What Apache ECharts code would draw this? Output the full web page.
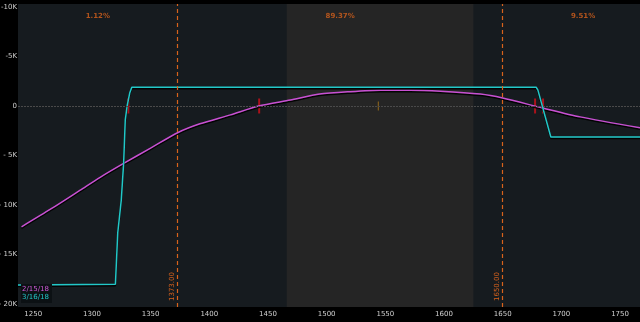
<!DOCTYPE html>
<html><head><meta charset="utf-8">
<script src="https://cdn.jsdelivr.net/npm/echarts@6/dist/echarts.min.js"></script>
<style>html,body{margin:0;padding:0;background:#000;}#c{width:640px;height:322px;}</style>
</head><body><div id="c"></div>
<script>
// T+0 curve (2/15/18): [underlying price, P/L]
const t0Price = [1240,1265,1290,1307,1327,1350,1373,1392,1418,1442,1469,1494,1520,1546,1571,1597,1631,1650,1684,1716,1767];
const t0PL    = [-12200,-10400,-8500,-7200,-5800,-4250,-2700,-1800,-900,0,600,1200,1450,1600,1600,1500,1200,800,-200,-1100,-2200];
// Expiry curve (3/16/18)
const expPrice = [1237,1320,1322,1325,1327,1328.4,1330,1332.2,1334,1678.5,1680,1691,1767];
const expPL    = [-18080,-18000,-12800,-9500,-5800,-1400,0,1300,1900,1900,1600,-3130,-3130];
const seriesNames = ['2/15/18','3/16/18'];
// probability regions and labels
const regionBounds = [[1237,1373],[1373,1650],[1650,1787]];
const regionLabels = ['1.12%','89.37%','9.51%'];
const breakLines = [1373, 1650];
const breakLabels = ['1373.00','1650.00'];
const shadedRange = [1466, 1625];
const redMarks = [1331, 1442.5, 1677.6, 1684.4];
const goldMarks = [1544];
const xTicks = [1250,1300,1350,1400,1450,1500,1550,1600,1650,1700,1750];
const yTicks = [10000,5000,0,-5000,-10000,-15000,-20000];

const font = 'DejaVu Sans';
const orange = '#d8621c';
const chart = echarts.init(document.getElementById('c'));
const lblPos = regionBounds.map((r,i)=>[(r[0]+r[1])/2, 9100, regionLabels[i]]);
chart.setOption({
  backgroundColor:'#000',
  animation:false,
  grid:{left:18,right:0,top:4,bottom:15,show:true,backgroundColor:'#161b1f',borderWidth:0,containLabel:false,outerBoundsMode:'none'},
  xAxis:{type:'value',min:1237,max:1767,
    axisLine:{show:false},axisTick:{show:false},
    splitLine:{show:false},
    axisLabel:{customValues:xTicks,color:'#d0d0d0',fontSize:7,fontFamily:font,margin:4,hideOverlap:false,formatter:v=>String(v)}},
  yAxis:{type:'value',min:-20300,max:10300,
    axisLine:{show:false},axisTick:{show:false},
    splitLine:{show:false},
    axisLabel:{customValues:yTicks,color:'#d0d0d0',fontSize:7,fontFamily:font,margin:1,
      formatter:v=> v===0?'0': (v>0?'-'+(v/1000)+'K':'- '+(Math.abs(v)/1000)+'K')}},
  legend:{orient:'vertical',left:21,bottom:19,itemGap:1,itemWidth:0,itemHeight:0,icon:'none',
    padding:[2,3,2,0],backgroundColor:'#0c1114',
    data:[{name:seriesNames[0],textStyle:{color:'#d05ad8'}},{name:seriesNames[1],textStyle:{color:'#22c8c8'}}],
    textStyle:{fontSize:7,fontFamily:font,padding:[0,0,0,-4]}},
  series:[
    {type:'line',name:'bg',data:[],silent:true,
      markArea:{silent:true,itemStyle:{color:'#252525'},data:[[{xAxis:shadedRange[0]},{xAxis:shadedRange[1]}]]},
      markLine:{silent:true,symbol:'none',
        data:[
          {yAxis:0,lineStyle:{color:'#4a4a4a',type:[2,1],width:1},label:{show:false}}
        ]}},
    {type:'line',name:'breaks',data:[],silent:true,
      markLine:{silent:true,symbol:'none',
        lineStyle:{color:orange,type:[4,3],width:1.2,opacity:1},
        emphasis:{disabled:true},
        label:{show:true,position:'insideStartTop',color:orange,fontSize:7,fontFamily:font,distance:[6,2]},
        data:breakLines.map((b,i)=>({xAxis:b,label:{formatter:breakLabels[i]}}))}},
    {type:'scatter',name:'pct',data:lblPos,symbolSize:0,silent:true,
      label:{show:true,formatter:p=>p.data[2],color:orange,fontSize:7,fontWeight:'bold',fontFamily:font,position:'inside'}},
    {type:'line',name:seriesNames[0],data:t0Price.map((x,i)=>[x,t0PL[i]]),showSymbol:false,smooth:0.25,
      lineStyle:{color:'#c850d2',width:1.5,shadowColor:'rgba(0,0,0,0.9)',shadowOffsetY:1.5,shadowBlur:0},itemStyle:{color:'#c850d2'}},
    {type:'line',name:seriesNames[1],data:expPrice.map((x,i)=>[x,expPL[i]]),showSymbol:false,
      lineStyle:{color:'#22c8c8',width:1.5,shadowColor:'rgba(0,0,0,0.9)',shadowOffsetY:1.5,shadowBlur:0},itemStyle:{color:'#22c8c8'}},
    {type:'scatter',name:'marks',data:redMarks.map(x=>[x,0]),symbol:'rect',symbolSize:[2,15],silent:true,itemStyle:{color:'#d0101a'}},
    {type:'scatter',name:'gold',data:goldMarks.map(x=>[x,0]),symbol:'rect',symbolSize:[1,9],silent:true,itemStyle:{color:'#b07a1a'}}
  ]
});
</script></body></html>
